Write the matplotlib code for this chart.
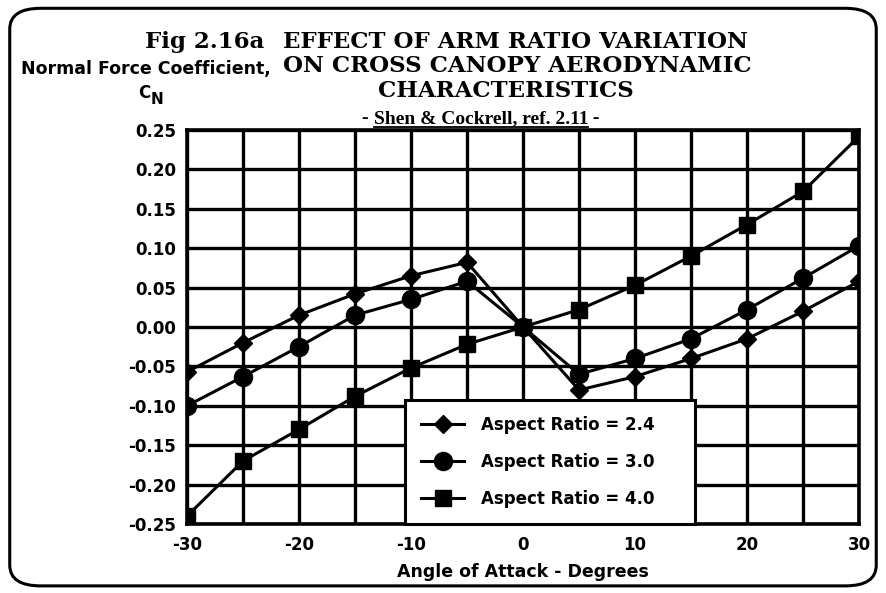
import matplotlib.pyplot as plt
from matplotlib.patches import FancyBboxPatch

plt.rcParams["axes.unicode_minus"] = False

angle = [-30, -25, -20, -15, -10, -5, 0, 5, 10, 15, 20, 25, 30]
cn_ar24 = [-0.057, -0.020, 0.015, 0.042, 0.065, 0.082, 0.0, -0.080, -0.063, -0.040, -0.015, 0.020, 0.058]
cn_ar30 = [-0.100, -0.063, -0.025, 0.015, 0.035, 0.058, 0.0, -0.060, -0.040, -0.015, 0.022, 0.062, 0.103]
cn_ar40 = [-0.240, -0.170, -0.130, -0.088, -0.052, -0.022, 0.0, 0.022, 0.053, 0.090, 0.130, 0.172, 0.242]
x_ticks = [-30, -20, -10, 0, 10, 20, 30]
y_ticks = [-0.25, -0.20, -0.15, -0.10, -0.05, 0.00, 0.05, 0.10, 0.15, 0.20, 0.25]

fig = plt.figure(figsize=(8.86, 5.93), dpi=100)
ax = fig.add_axes([0.2111, 0.1164, 0.7585, 0.6644])

lw = 2.2
ax.plot(angle, cn_ar24, color="black", lw=lw, marker="D", ms=9.5, label="Aspect Ratio = 2.4", zorder=5)
ax.plot(angle, cn_ar30, color="black", lw=lw, marker="o", ms=13, label="Aspect Ratio = 3.0", zorder=5)
ax.plot(angle, cn_ar40, color="black", lw=lw, marker="s", ms=11.5, label="Aspect Ratio = 4.0", zorder=5)

ax.set_xlim(-30, 30)
ax.set_ylim(-0.25, 0.25)
ax.set_xticks(x_ticks)
ax.set_xticks(range(-25, 30, 10), minor=True)
ax.set_yticks(y_ticks)
ax.set_yticklabels([f"{v:.2f}" for v in y_ticks])
ax.grid(True, which="both", color="black", lw=2.4)
ax.tick_params(which="both", length=0, labelsize=12)
ax.tick_params(axis="y", pad=8)
ax.tick_params(axis="x", pad=9)
for lab in ax.get_xticklabels() + ax.get_yticklabels():
    lab.set_fontweight("bold")
for s in ax.spines.values():
    s.set_linewidth(2.6)

ax.set_xlabel("Angle of Attack - Degrees", fontsize=12.5, fontweight="bold", labelpad=6)

leg = ax.legend(loc="lower left", bbox_to_anchor=(0.3244, 0.0, 0.4315, 0.302), mode="expand",
                borderaxespad=0, frameon=True, fancybox=False, edgecolor="black", framealpha=1,
                prop={"weight": "bold", "size": 12}, labelspacing=1.15,
                handlelength=2.6, borderpad=0.95, handletextpad=1.0)
leg.get_frame().set_linewidth(2.2)
leg.set_zorder(10)

# title block
serif = "DejaVu Serif"
fig.text(0.1637, 0.919, "Fig 2.16a", ha="left", va="baseline",
         fontsize=16.5, fontweight="bold", family=serif)
fig.text(0.3194, 0.919, "EFFECT OF ARM RATIO VARIATION", ha="left", va="baseline",
         fontsize=16.5, fontweight="bold", family=serif)
fig.text(0.3194, 0.8786, "ON CROSS CANOPY AERODYNAMIC", ha="left", va="baseline",
         fontsize=16.5, fontweight="bold", family=serif)
fig.text(0.4266, 0.8364, "CHARACTERISTICS", ha="left", va="baseline",
         fontsize=16.5, fontweight="bold", family=serif)

sub = fig.text(0.4086, 0.7926, "- ", ha="left", va="baseline",
               fontsize=14, fontweight="bold", family="Liberation Serif")
fig.canvas.draw()
r = fig.canvas.get_renderer()
bb = sub.get_window_extent(r)
mid = fig.text(bb.x1 / fig.bbox.width, 0.7926, "Shen & Cockrell, ref. 2.11", ha="left", va="baseline",
               fontsize=14, fontweight="bold", family="Liberation Serif")
bm = mid.get_window_extent(r)
fig.text(bm.x1 / fig.bbox.width, 0.7926, " -", ha="left", va="baseline",
         fontsize=14, fontweight="bold", family="Liberation Serif")
fig.add_artist(plt.Line2D([bm.x0 / fig.bbox.width, bm.x1 / fig.bbox.width], [0.7865, 0.7865],
                          color="black", lw=1.3))

# y axis title
fig.text(0.1642, 0.8752, "Normal Force Coefficient,", ha="center", va="baseline",
         fontsize=12.5, fontweight="bold")
fig.text(0.1558, 0.8347, "C", ha="left", va="baseline", fontsize=12, fontweight="bold")
fig.text(0.1704, 0.8246, "N", ha="left", va="baseline", fontsize=11, fontweight="bold")

fig.add_artist(FancyBboxPatch((0.011, 0.012), 0.978, 0.974, boxstyle="round,pad=0,rounding_size=0.035",
                              transform=fig.transFigure, fill=False, ec="black", lw=2.2))

fig.savefig("out.png", dpi=100)
